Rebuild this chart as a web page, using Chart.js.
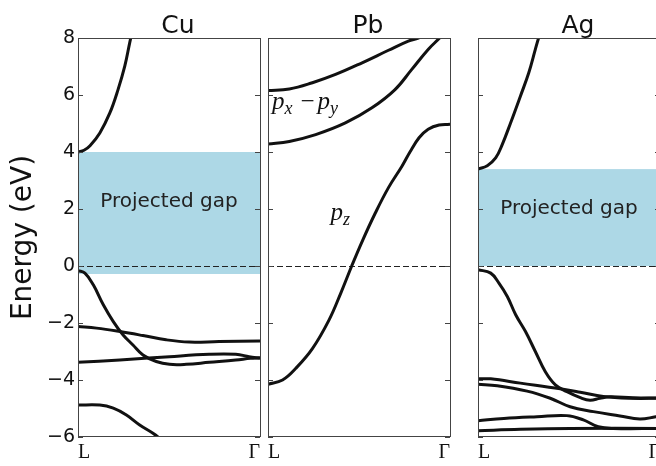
<!DOCTYPE html>
<html lang="en">
<head>
<meta charset="UTF-8">
<title>Band structure: Cu, Pb, Ag</title>
<script src="https://cdn.jsdelivr.net/npm/chart.js@4.4.1/dist/chart.umd.min.js"></script>
<style>
  html, body { margin: 0; padding: 0; background: #fff; overflow: hidden; }
  #fig { position: relative; width: 656px; height: 466px; overflow: hidden; }
  #fig canvas { position: absolute; top: 0; }
</style>
</head>
<body>
<div id="fig">
  <canvas id="chartCu" width="264" height="466" style="left:0"></canvas>
  <canvas id="chartPb" width="190" height="466" style="left:264px"></canvas>
  <canvas id="chartAg" width="190" height="466" style="left:474px"></canvas>
</div>

<script>
// energy axis and k-path
const yTicks = [-6, -4, -2, 0, 2, 4, 6, 8];
const kLabels = ['L', 'Γ'];

// bands: [k along L->Γ (0..1), energy in eV]
const cuBands = [
  [[0, 4.0], [0.033, 4.06], [0.066, 4.22], [0.12, 4.67], [0.175, 5.37], [0.22, 6.19], [0.257, 7.01], [0.284, 7.83], [0.30, 8.3]],
  [[0, -0.16], [0.038, -0.25], [0.084, -0.66], [0.139, -1.36], [0.194, -1.95], [0.248, -2.42], [0.302, -2.77], [0.357, -3.12],
   [0.43, -3.35], [0.503, -3.45], [0.594, -3.45], [0.721, -3.38], [0.867, -3.30], [0.948, -3.24], [1, -3.22]],
  [[0, -2.12], [0.102, -2.18], [0.23, -2.30], [0.357, -2.44], [0.484, -2.59], [0.611, -2.67], [0.775, -2.65], [1, -2.63]],
  [[0, -3.38], [0.23, -3.30], [0.503, -3.18], [0.721, -3.10], [0.867, -3.10], [0.94, -3.18], [1, -3.24]],
  [[0, -4.88], [0.12, -4.88], [0.194, -4.99], [0.266, -5.23], [0.339, -5.58], [0.412, -5.87], [0.46, -6.1]]
];
const pbBands = [
  [[0, 6.16], [0.117, 6.21], [0.244, 6.43], [0.371, 6.72], [0.517, 7.13], [0.662, 7.57], [0.771, 7.89], [0.826, 8.0], [0.9, 8.2]],
  [[0, 4.28], [0.117, 4.37], [0.262, 4.61], [0.425, 5.02], [0.571, 5.55], [0.698, 6.19], [0.789, 6.89], [0.88, 7.60], [0.943, 8.0], [1, 8.4]],
  [[0, -4.15], [0.08, -4.0], [0.153, -3.59], [0.244, -2.9], [0.335, -1.9], [0.40, -0.95], [0.46, 0], [0.52, 0.9],
   [0.589, 1.85], [0.662, 2.75], [0.736, 3.5], [0.78, 4.0], [0.83, 4.5], [0.88, 4.8], [0.94, 4.95], [1, 4.97]]
];
const agBands = [
  [[0, 3.40], [0.051, 3.52], [0.097, 3.79], [0.133, 4.26], [0.179, 5.02], [0.233, 5.96], [0.279, 6.78], [0.315, 7.60], [0.333, 8.0], [0.35, 8.3]],
  [[0, -0.13], [0.07, -0.25], [0.115, -0.60], [0.161, -1.07], [0.207, -1.71], [0.261, -2.30], [0.315, -3.00], [0.37, -3.71],
   [0.425, -4.17], [0.489, -4.41], [0.562, -4.62], [0.616, -4.71], [0.67, -4.64], [0.725, -4.59], [0.85, -4.62], [1, -4.63]],
  [[0, -3.96], [0.07, -3.96], [0.233, -4.11], [0.452, -4.31], [0.562, -4.43], [0.689, -4.58], [0.834, -4.64], [1, -4.64]],
  [[0, -4.15], [0.106, -4.2], [0.27, -4.39], [0.397, -4.64], [0.506, -4.94], [0.634, -5.11], [0.78, -5.26], [0.889, -5.37], [0.977, -5.29], [1, -5.27]],
  [[0, -5.43], [0.142, -5.35], [0.324, -5.29], [0.488, -5.25], [0.579, -5.40], [0.661, -5.64], [0.743, -5.70], [1, -5.70]],
  [[0, -5.78], [0.233, -5.73], [0.506, -5.70], [1, -5.70]]
];

// projected bulk gaps [bottom, top] in eV
const cuGap = [-0.28, 4.0];
const agGap = [0, 3.4];

const gapText = 'Projected gap';

Chart.defaults.font.family = 'DejaVu Sans';
Chart.defaults.color = '#111';

function drawMath(ctx, parts, x, y) {
  // parts: [text, kind, extra gap] - kind 'i' italic, 's' subscript, 'r' roman
  parts.forEach(function (p) {
    if (p[1] == 's') {
      ctx.font = 'italic 18px "Liberation Serif"';
      ctx.fillText(p[0], x, y + 5);
    } else {
      ctx.font = (p[1] == 'i' ? 'italic ' : '') + '25px "Liberation Serif"';
      ctx.fillText(p[0], x, y);
    }
    x += ctx.measureText(p[0]).width + (p[2] || 0);
  });
}

const bandDecor = {
  id: 'bandDecor',
  beforeDatasetsDraw(chart, args, opts) {
    const ctx = chart.ctx, a = chart.chartArea, ys = chart.scales.y;
    ctx.save();
    if (opts.gap) {
      const top = ys.getPixelForValue(opts.gap[1]);
      const bot = ys.getPixelForValue(opts.gap[0]);
      ctx.fillStyle = '#add8e6';
      ctx.fillRect(a.left, top, a.right - a.left, bot - top);
    }
    // Fermi level
    const y0 = Math.round(ys.getPixelForValue(0)) + 0.5;
    ctx.strokeStyle = '#222';
    ctx.lineWidth = 1;
    ctx.setLineDash([6, 3]);
    ctx.beginPath();
    ctx.moveTo(a.left, y0);
    ctx.lineTo(a.right, y0);
    ctx.stroke();
    ctx.restore();
  },
  afterDatasetsDraw(chart, args, opts) {
    const ctx = chart.ctx, a = chart.chartArea, xs = chart.scales.x, ys = chart.scales.y;
    ctx.save();
    // frame + inward ticks
    ctx.strokeStyle = '#444';
    ctx.lineWidth = 1;
    ctx.strokeRect(a.left + 0.5, a.top + 0.5, a.right - a.left, a.bottom - a.top - 1);
    ctx.beginPath();
    yTicks.forEach(function (v) {
      const py = Math.round(ys.getPixelForValue(v)) + 0.5;
      ctx.moveTo(a.left, py); ctx.lineTo(a.left + 5, py);
      ctx.moveTo(a.right, py); ctx.lineTo(a.right - 5, py);
    });
    ctx.stroke();

    // panel title
    ctx.fillStyle = '#111';
    ctx.font = '25px "DejaVu Sans"';
    ctx.textAlign = 'center';
    ctx.textBaseline = 'alphabetic';
    ctx.fillText(opts.title, (a.left + a.right) / 2 + 9, 33);

    // notes
    (opts.notes || []).forEach(function (n) {
      const px = xs.getPixelForValue(n.x), py = ys.getPixelForValue(n.y);
      if (n.math) {
        ctx.textAlign = 'left';
        ctx.textBaseline = 'alphabetic';
        drawMath(ctx, n.math, px, py);
      } else {
        ctx.font = '20px "DejaVu Sans"';
        ctx.textAlign = 'center';
        ctx.textBaseline = 'middle';
        ctx.fillStyle = '#222';
        ctx.fillText(n.text, px, py);
      }
    });
    ctx.restore();
  }
};

function bandChart(id, title, bands, gap, notes, showY) {
  const datasets = bands.map(function (b) {
    return {
      data: b.map(function (p) { return {x: p[0], y: p[1]}; }),
      borderColor: '#111',
      borderWidth: 3,
      pointRadius: 0,
      tension: 0.4,
      clip: 0
    };
  });
  return new Chart(document.getElementById(id), {
    type: 'line',
    data: {datasets: datasets},
    options: {
      responsive: false,
      animation: false,
      layout: {padding: showY ? {left: 0, right: 3, top: 38, bottom: 0} : {left: 3, right: 4, top: 38, bottom: 0}},
      plugins: {
        legend: {display: false},
        tooltip: {enabled: false},
        bandDecor: {title: title, gap: gap, notes: notes}
      },
      scales: {
        x: {
          type: 'linear', min: 0, max: 1,
          afterBuildTicks: function (s) { s.ticks = kLabels.map(function (_, i) { return {value: i / (kLabels.length - 1)}; }); },
          afterFit: function (s) { s.height = 29; },
          grid: {display: false, drawTicks: false},
          border: {display: false},
          ticks: {
            align: 'inner', padding: 4, color: '#111',
            font: {family: 'Liberation Serif', size: 20},
            callback: function (v) { return kLabels[Math.round(v * (kLabels.length - 1))]; }
          }
        },
        y: {
          type: 'linear', min: -6, max: 8, display: showY,
          afterBuildTicks: function (s) { s.ticks = yTicks.map(function (v) { return {value: v}; }); },
          afterFit: function (s) { s.width = showY ? 78 : 0; },
          grid: {display: false, drawTicks: false},
          border: {display: false},
          ticks: {
            padding: 3, color: '#111', font: {size: 19},
            callback: function (v) { return String(v).replace('-', '\u2212'); }
          },
          title: {display: true, text: 'Energy (eV)', color: '#111', font: {size: 28}, padding: {top: 6.5, bottom: 0}}
        }
      }
    },
    plugins: [bandDecor]
  });
}

bandChart('chartCu', 'Cu', cuBands, cuGap, [{text: gapText, x: 0.5, y: 2.25}], true);
bandChart('chartPb', 'Pb', pbBands, null, [
  {math: [['p', 'i'], ['x', 's', 8], ['\u2212', 'r', 3], ['p', 'i'], ['y', 's']], x: 0.022, y: 5.52},
  {math: [['p', 'i'], ['z', 's']], x: 0.344, y: 1.60}
], false);
bandChart('chartAg', 'Ag', agBands, agGap, [{text: gapText, x: 0.5, y: 2.0}], false);
</script>
</body>
</html>
